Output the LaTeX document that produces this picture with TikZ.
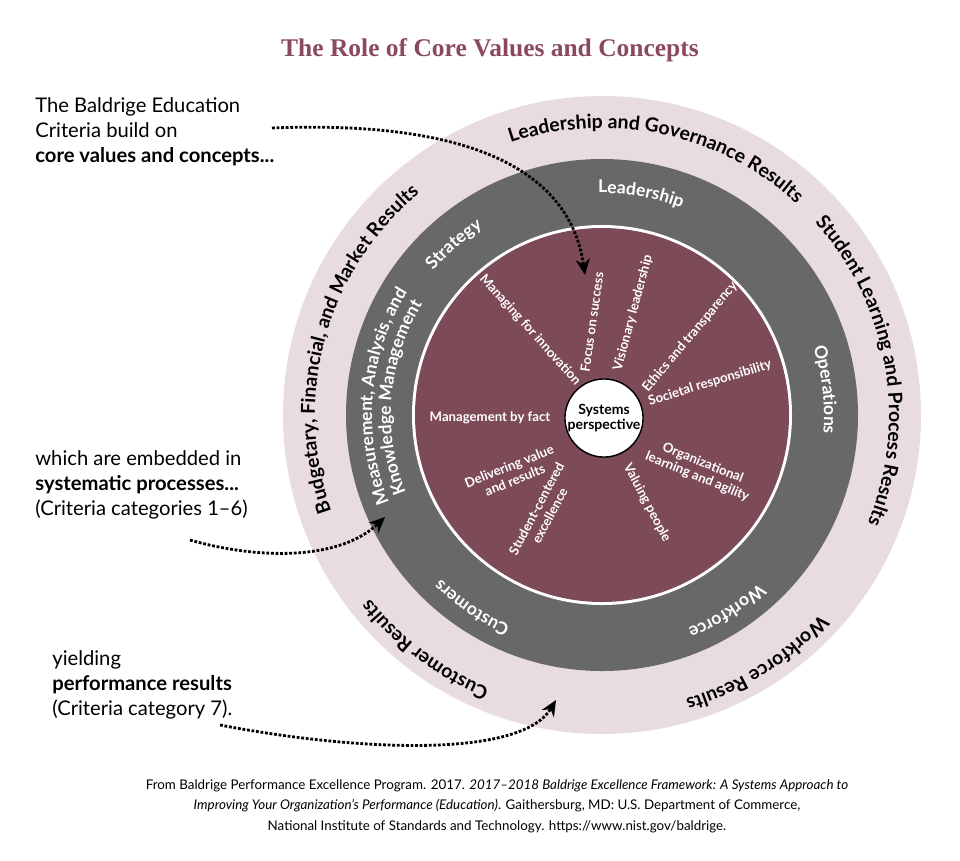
\documentclass[tikz,border=0pt]{standalone}
\usepackage{fontspec}
\setmainfont{Lato}
\newfontfamily\titlefont{Liberation Serif}
\usetikzlibrary{decorations.text,arrows.meta}
\definecolor{ringpink}{HTML}{E8DCE0}
\definecolor{ringgray}{HTML}{68686A}
\definecolor{coremaroon}{HTML}{7D4A58}
\definecolor{titlemaroon}{HTML}{8A4A5C}
\tikzset{
  spoke/.style={white,font=\fontsize{7.5}{8.5}\selectfont\bfseries,align=center,inner sep=1pt},
  side/.style={anchor=west,align=left,font=\fontsize{11.5}{14.2}\selectfont,inner sep=0pt},
  hint/.style={densely dotted,line width=1.6pt,-{Stealth[length=9pt,width=8pt]}},
}
% text on a clockwise arc: start angle, end angle, radius, text
\newcommand{\ringtext}[4]{%
  \path[decorate,decoration={text along path,text align=center,text={#4}}]
    (hub) ++(#1:#3) arc[start angle=#1,end angle=#2,radius=#3];}
\begin{document}
\begin{tikzpicture}[x=0.02cm,y=0.02cm]
    \useasboundingbox (0,0) rectangle (960,-860);
    \coordinate (hub) at (602,-415);
    \fill[ringpink] (hub) circle (319);
    \fill[ringgray] (hub) circle (256);
    \fill[white] (hub) circle (190);
    \fill[coremaroon] (hub) circle (187);
    \node[circle,draw=black,fill=white,line width=0.8pt,minimum size=1.52cm,inner sep=0pt,
      font=\fontsize{8}{9}\selectfont\bfseries,align=center] (sys) at (604,-418) {Systems\\perspective};
    % results ring
    \ringtext{118}{38}{287}{|\fontsize{11}{11}\selectfont\bfseries|Leadership and Governance Results}
    \ringtext{52}{-32}{287}{|\fontsize{11}{11}\selectfont\bfseries|Student Learning and Process Results}
    \ringtext{-33}{-83}{296}{|\fontsize{11}{11}\selectfont\bfseries|Workforce Results}
    \ringtext{-102}{-152}{296}{|\fontsize{11}{11}\selectfont\bfseries|Customer Results}
    \ringtext{-148}{-243}{287}{|\fontsize{11}{11}\selectfont\bfseries|Budgetary, Financial, and Market Results}
    % process ring
    \ringtext{105}{55}{222}{|\fontsize{10}{10}\selectfont\bfseries\color{white}|Leadership}
    \ringtext{150}{112}{222}{|\fontsize{10}{10}\selectfont\bfseries\color{white}|Strategy}
    \ringtext{35}{-22}{222}{|\fontsize{10}{10}\selectfont\bfseries\color{white}|Operations}
    \ringtext{-35}{-80}{230}{|\fontsize{10}{10}\selectfont\bfseries\color{white}|Workforce}
    \ringtext{-100}{-148}{230}{|\fontsize{10}{10}\selectfont\bfseries\color{white}|Customers}
    \ringtext{-130}{-240}{230}{|\fontsize{10}{10}\selectfont\bfseries\color{white}|Measurement, Analysis, and}
    \ringtext{-130}{-240}{211}{|\fontsize{10}{10}\selectfont\bfseries\color{white}|Knowledge Management}
    % core values
    \node[spoke,rotate=-48] (innov) at (530,-330) {Managing for innovation};
    \node[spoke,rotate=82] (focus) at (592,-322) {Focus on success};
    \node[spoke,rotate=75] (vision) at (633,-313) {Visionary leadership};
    \node[spoke,rotate=50] (ethics) at (690,-337) {Ethics and transparency};
    \node[spoke,rotate=17] (soc) at (710,-383) {Societal responsibility};
    \node[spoke] (fact) at (490,-418) {Management by fact};
    \node[spoke,rotate=-22] (learn) at (700,-470) {Organizational\\learning and agility};
    \node[spoke,rotate=-62] (people) at (647,-503) {Valuing people};
    \node[spoke,rotate=62] (student) at (543,-512) {Student-centered\\excellence};
    \node[spoke,rotate=22] (deliver) at (512,-473) {Delivering value\\and results};
    % title and side notes
    \node[font=\titlefont\fontsize{14.5}{16}\selectfont\bfseries,text=titlemaroon] (title) at (490,-50) {The Role of Core Values and Concepts};
    \node[side] (note1) at (35,-132) {The Baldrige Education\\Criteria build on\\\textbf{core values and concepts...}};
    \node[side] (note2) at (35,-485) {which are embedded in\\\textbf{systematic processes...}\\(Criteria categories 1--6)};
    \node[side] (note3) at (52,-685) {yielding\\\textbf{performance results}\\(Criteria category 7).};
    \coordinate (tip1) at (585,-275);
    \coordinate (tip2) at (385,-517);
    \coordinate (tip3) at (556,-700);
    \draw[hint] (272,-128) .. controls (470,-120) and (570,-170) .. (tip1);
    \draw[hint] (190,-540) .. controls (260,-560) and (340,-560) .. (tip2);
    \draw[hint] (220,-725) .. controls (350,-750) and (520,-760) .. (tip3);
    \node[font=\fontsize{7.6}{11.6}\selectfont,align=center] (credit) at (497,-806)
      {From Baldrige Performance Excellence Program. 2017. \textit{2017--2018 Baldrige Excellence Framework: A Systems Approach to}\\
       \textit{Improving Your Organization's Performance (Education)}. Gaithersburg, MD: U.S. Department of Commerce,\\
       National Institute of Standards and Technology. https://www.nist.gov/baldrige.};
\end{tikzpicture}
\end{document}
